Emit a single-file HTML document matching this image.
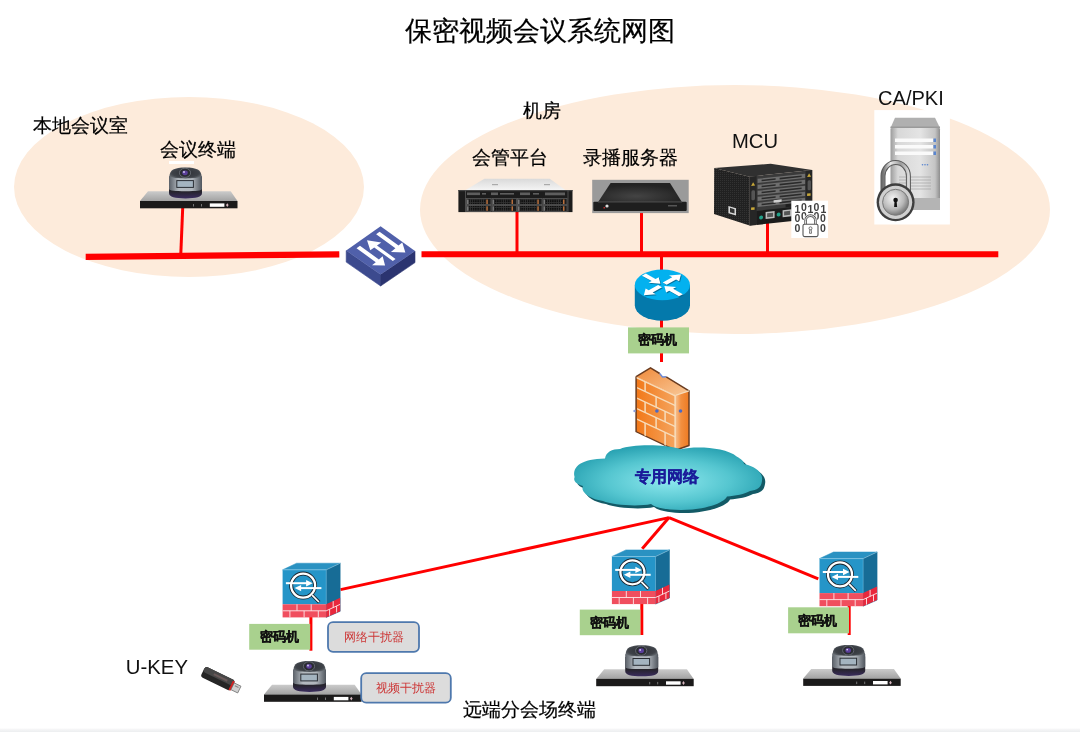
<!DOCTYPE html>
<html><head><meta charset="utf-8">
<style>
html,body{margin:0;padding:0;background:#fff;width:1080px;height:732px;overflow:hidden}
.mm text{stroke:#111;stroke-width:0.3}
svg{display:block;will-change:transform;font-family:"Liberation Sans",sans-serif}
</style></head><body>
<svg width="1080" height="732" viewBox="0 0 1080 732">
<defs>
<linearGradient id="plateG" x1="0" y1="0" x2="0" y2="1">
 <stop offset="0" stop-color="#cbcbcb"/><stop offset="1" stop-color="#a2a2a2"/>
</linearGradient>
<radialGradient id="camTop" cx="0.5" cy="0.5" r="0.6">
 <stop offset="0" stop-color="#2e3036"/><stop offset="0.7" stop-color="#3e4248"/><stop offset="1" stop-color="#6a7076"/>
</radialGradient>
<linearGradient id="camBand" x1="0" y1="0" x2="1" y2="0">
 <stop offset="0" stop-color="#5a6068"/><stop offset="0.3" stop-color="#b4bac0"/><stop offset="0.7" stop-color="#b0b6bc"/><stop offset="1" stop-color="#50565e"/>
</linearGradient>
<linearGradient id="camBase" x1="0" y1="0" x2="0" y2="1">
 <stop offset="0" stop-color="#303036"/><stop offset="0.65" stop-color="#26242c"/><stop offset="1" stop-color="#3a2c5e"/>
</linearGradient>
<g id="term">
 <polygon points="8,-9.7 90.7,-9.7 97.5,0 0,0" fill="url(#plateG)"/>
 <rect x="0" y="0" width="97.5" height="7.3" fill="#1b1a1a"/>
 <rect x="69.8" y="2.4" width="14.6" height="3.4" fill="#fff"/>
 <path d="M87.3,2.2 L88.6,4.1 L87.3,6 L86,4.1Z" fill="#d8b8c0"/>
 <rect x="53" y="3" width="1" height="2.5" fill="#777"/>
 <rect x="61" y="3" width="1" height="2.5" fill="#777"/>
 <path d="M29,-22 L62,-22 L62,-8 C62,-4 56,-2.6 45.5,-2.6 C35,-2.6 29,-4 29,-8 Z" fill="url(#camBase)"/>
 <path d="M29,-24 C29,-26 31,-27 45.5,-27 C60,-27 62,-26 62,-24 L62,-12 C62,-10.3 56,-9.8 45.5,-9.8 C35,-9.8 29,-10.3 29,-12 Z" fill="url(#camBand)"/>
 <path d="M29.5,-24.5 C29.5,-31 34,-33.6 45.5,-33.6 C57,-33.6 61.5,-31 61.5,-24.5 C57,-22 34,-22 29.5,-24.5 Z" fill="url(#camTop)"/>
 <rect x="36.8" y="-20.4" width="16.6" height="6.8" fill="#a4b4c0" stroke="#2a2e34" stroke-width="1"/>
 <ellipse cx="45" cy="-28.2" rx="5.6" ry="4.6" fill="#2a2c32" stroke="#70757c" stroke-width="0.8"/>
 <ellipse cx="45" cy="-28.2" rx="2.8" ry="2.4" fill="#5a3e9a"/>
 <circle cx="44" cy="-29" r="0.9" fill="#d8d0f0"/>
</g>
<g id="cube">
 <polygon points="0,0 14,-6.6 57.6,-6.6 43.6,0" fill="#2a92c2" stroke="#2a92c2" stroke-width="0.5"/>
 <polygon points="43.6,0 57.6,-6.6 57.6,41.5 43.6,47.6" fill="#176c96" stroke="#176c96" stroke-width="0.5"/>
 <rect x="0" y="0" width="43.6" height="34.5" fill="#2595c8"/>
 <polygon points="43.6,34.5 57.6,28 57.6,41.5 43.6,47.6" fill="#e8283c"/>
 <rect x="0" y="34.5" width="43.6" height="13.1" fill="#f04e5e"/>
 <g stroke="#fde8ea" stroke-width="0.9">
  <line x1="0" y1="41" x2="43.6" y2="41"/>
  <line x1="14.4" y1="34.5" x2="14.4" y2="41"/><line x1="28.6" y1="34.5" x2="28.6" y2="41"/>
  <line x1="7.3" y1="41" x2="7.3" y2="47.6"/><line x1="21.5" y1="41" x2="21.5" y2="47.6"/><line x1="35.7" y1="41" x2="35.7" y2="47.6"/>
  <line x1="43.6" y1="41" x2="57.6" y2="34.5"/>
  <line x1="50.6" y1="31.3" x2="50.6" y2="38"/><line x1="47" y1="39.5" x2="47" y2="46"/><line x1="54" y1="36.3" x2="54" y2="42.7"/>
 </g>
 <line x1="0" y1="0" x2="43.6" y2="0" stroke="#9ed4ec" stroke-width="0.6"/>
 <line x1="43.6" y1="0" x2="57.6" y2="-6.6" stroke="#9ed4ec" stroke-width="0.6"/>
 <line x1="43.6" y1="0" x2="43.6" y2="34.5" stroke="#6ab8dc" stroke-width="0.5"/>
 <circle cx="20.5" cy="15.8" r="12" fill="none" stroke="#1a2630" stroke-width="4"/>
 <circle cx="20.5" cy="15.8" r="12" fill="none" stroke="#fff" stroke-width="2.3"/>
 <line x1="29.5" y1="25.3" x2="36.6" y2="32.5" stroke="#1a2630" stroke-width="3.4"/>
 <line x1="29.5" y1="25.3" x2="36.3" y2="32.2" stroke="#fff" stroke-width="1.7"/>
 <g fill="#fff" stroke="#fff">
  <line x1="3.3" y1="13.4" x2="25" y2="13.4" stroke-width="2"/>
  <polygon points="23.5,10.2 30,13.4 23.5,16.6" stroke="none"/>
  <line x1="38.8" y1="18.3" x2="17" y2="18.3" stroke-width="2"/>
  <polygon points="18.5,15.1 12,18.3 18.5,21.5" stroke="none"/>
 </g>
</g>
<radialGradient id="cloudG" cx="0.5" cy="0.55" r="0.55">
 <stop offset="0" stop-color="#8ee8ee"/><stop offset="0.6" stop-color="#55c6d0"/><stop offset="1" stop-color="#2aa3b3"/>
</radialGradient>
<linearGradient id="fwFront" x1="0" y1="0" x2="1" y2="0">
 <stop offset="0" stop-color="#f27818"/><stop offset="1" stop-color="#f4a45e"/>
</linearGradient>
<linearGradient id="fwTop" x1="0" y1="0" x2="1" y2="1">
 <stop offset="0" stop-color="#f08a3a"/><stop offset="1" stop-color="#f8c898"/>
</linearGradient>
<linearGradient id="fwSide" x1="0" y1="0" x2="1" y2="0">
 <stop offset="0" stop-color="#f6c090"/><stop offset="0.4" stop-color="#f39040"/><stop offset="1" stop-color="#ee7a22"/>
</linearGradient>
<g id="rarrow">
 <path d="M-0.08,-0.065 L-0.5,-0.065 L-0.5,-0.16 L-0.8,0 L-0.5,0.16 L-0.5,0.065 L-0.08,0.065 Z"/>
</g>
<linearGradient id="srvTop" x1="0" y1="0" x2="0" y2="1">
 <stop offset="0" stop-color="#dadada"/><stop offset="1" stop-color="#f4f4f4"/>
</linearGradient>
<radialGradient id="recTop" cx="0.45" cy="0.7" r="0.6">
 <stop offset="0" stop-color="#444"/><stop offset="1" stop-color="#232323"/>
</radialGradient>
<linearGradient id="towerG" x1="0" y1="0" x2="1" y2="0">
 <stop offset="0" stop-color="#9c9c9c"/><stop offset="0.15" stop-color="#d8d8d8"/><stop offset="0.6" stop-color="#e4e4e4"/><stop offset="0.9" stop-color="#c4c4c4"/><stop offset="1" stop-color="#8e8e8e"/>
</linearGradient>
<radialGradient id="lockG" cx="0.4" cy="0.35" r="0.7">
 <stop offset="0" stop-color="#f4f4f4"/><stop offset="0.6" stop-color="#b8b8b8"/><stop offset="1" stop-color="#6a6a6a"/>
</radialGradient>
<linearGradient id="shackleG" x1="0" y1="0" x2="1" y2="0">
 <stop offset="0" stop-color="#707070"/><stop offset="0.3" stop-color="#e8e8e8"/><stop offset="0.7" stop-color="#9a9a9a"/><stop offset="1" stop-color="#d8d8d8"/>
</linearGradient>
<pattern id="bayMesh" width="2.2" height="2.6" patternUnits="userSpaceOnUse"><rect width="2.2" height="2.6" fill="#333"/><rect width="1.4" height="1.8" fill="#0e0e0e"/></pattern>
<pattern id="mesh" width="2" height="2" patternUnits="userSpaceOnUse">
 <rect width="2" height="2" fill="#262626"/><rect width="1" height="1" fill="#3a3a3a"/>
</pattern>
</defs>
<linearGradient id="botG" x1="0" y1="0" x2="0" y2="1"><stop offset="0" stop-color="#f8f8f9"/><stop offset="1" stop-color="#eceef0"/></linearGradient><rect x="0" y="728.5" width="1080" height="3.5" fill="url(#botG)"/>
<!-- ellipses -->
<ellipse cx="189" cy="187" rx="175" ry="90" fill="#fdebdb"/>
<ellipse cx="735" cy="209.5" rx="315" ry="124.5" fill="#fdebdb"/>
<!-- title -->
<text x="404.5" y="40.2" font-size="27.3" textLength="271" lengthAdjust="spacingAndGlyphs" fill="#000" stroke="#000" stroke-width="0.2">保密视频会议系统网图</text>
<text x="33" y="132" font-size="18.5" fill="#000" stroke="#000" stroke-width="0.2">本地会议室</text>
<text x="160" y="156" font-size="18.5" fill="#000" stroke="#000" stroke-width="0.2">会议终端</text>
<text x="523" y="117" font-size="18.5" fill="#000" stroke="#000" stroke-width="0.2">机房</text>
<text x="472" y="164" font-size="18.5" fill="#000" stroke="#000" stroke-width="0.2">会管平台</text>
<text x="583" y="164" font-size="18.5" fill="#000" stroke="#000" stroke-width="0.2">录播服务器</text>
<text x="732" y="148" font-size="21" textLength="46" lengthAdjust="spacingAndGlyphs" fill="#111">MCU</text>
<text x="878" y="104.6" font-size="20.5" textLength="65.8" lengthAdjust="spacingAndGlyphs" fill="#111">CA/PKI</text>
<text x="125.8" y="673.8" font-size="21" textLength="62.2" lengthAdjust="spacingAndGlyphs" fill="#111">U-KEY</text>
<text x="463" y="716" font-size="18.5" fill="#000" stroke="#000" stroke-width="0.2">远端分会场终端</text>
<!-- red lines -->
<line x1="85.7" y1="256.85" x2="339.3" y2="254.35" stroke="#ff0000" stroke-width="6.2"/>
<line x1="421.5" y1="254.25" x2="998.3" y2="254.15" stroke="#ff0000" stroke-width="6"/>
<line x1="182.7" y1="208" x2="180.8" y2="254" stroke="#ff0000" stroke-width="3"/>
<line x1="517" y1="212" x2="517" y2="254" stroke="#ff0000" stroke-width="3"/>
<line x1="641.5" y1="211" x2="641.5" y2="254" stroke="#ff0000" stroke-width="3"/>
<line x1="767.5" y1="222" x2="767.5" y2="254" stroke="#ff0000" stroke-width="3"/>
<line x1="661.5" y1="254" x2="661.5" y2="362" stroke="#ff0000" stroke-width="3"/>
<line x1="669" y1="517.6" x2="340.5" y2="589.6" stroke="#ff0000" stroke-width="3"/>
<line x1="669" y1="517.6" x2="642.2" y2="548.8" stroke="#ff0000" stroke-width="3"/>
<line x1="669" y1="517.6" x2="818.3" y2="578.8" stroke="#ff0000" stroke-width="3"/>
<line x1="310.9" y1="617" x2="310.9" y2="650.7" stroke="#ff0000" stroke-width="3"/>
<line x1="641.8" y1="604" x2="641.8" y2="635" stroke="#ff0000" stroke-width="3"/>
<line x1="849.2" y1="605" x2="849.2" y2="635" stroke="#ff0000" stroke-width="3"/>
<!-- server 1 -->
<g>
 <polygon points="484.4,178.8 549.8,178.8 565.4,190.1 465.6,190.1" fill="url(#srvTop)"/>
 <rect x="492" y="184" width="6" height="1.2" fill="#aaa"/><rect x="544" y="184" width="6" height="1.2" fill="#aaa"/>
 <rect x="458.4" y="190" width="114.1" height="22.1" fill="#1c1c1c"/>
 <rect x="458.4" y="190" width="114.1" height="1.2" fill="#444"/>
 <g fill="#5e5e5e">
  <rect x="467" y="192.5" width="13" height="2.6"/><rect x="482" y="193" width="4" height="1.6"/>
  <rect x="491" y="192.5" width="7" height="2.6"/><rect x="500" y="193" width="14" height="1.6"/>
  <rect x="520" y="192.5" width="10" height="2.6"/><rect x="533" y="193" width="6" height="1.6"/>
  <rect x="545" y="192.5" width="20" height="2.8"/>
 </g>
 <g fill="url(#bayMesh)">
  <rect x="469.5" y="199" width="16" height="5.2"/><rect x="495" y="199" width="16" height="5.2"/><rect x="520.5" y="199" width="16" height="5.2"/><rect x="546" y="199" width="16" height="5.2"/>
  <rect x="469.5" y="205.8" width="16" height="5.2"/><rect x="495" y="205.8" width="16" height="5.2"/><rect x="520.5" y="205.8" width="16" height="5.2"/><rect x="546" y="205.8" width="16" height="5.2"/>
 </g>
 <g fill="none" stroke="#5a5a5a" stroke-width="0.8">
  <rect x="466.5" y="198.5" width="24.5" height="6.2"/><rect x="492" y="198.5" width="24.5" height="6.2"/><rect x="517.5" y="198.5" width="24.5" height="6.2"/><rect x="543" y="198.5" width="24" height="6.2"/>
  <rect x="466.5" y="205.3" width="24.5" height="6.2"/><rect x="492" y="205.3" width="24.5" height="6.2"/><rect x="517.5" y="205.3" width="24.5" height="6.2"/><rect x="543" y="205.3" width="24" height="6.2"/>
  <line x1="465.5" y1="190.5" x2="465.5" y2="212"/><line x1="568" y1="190.5" x2="568" y2="212"/>
 </g>
 <g fill="#777">
  <rect x="467" y="199.5" width="1.6" height="4.5"/><rect x="492.5" y="199.5" width="1.6" height="4.5"/><rect x="518" y="199.5" width="1.6" height="4.5"/><rect x="543.5" y="199.5" width="1.6" height="4.5"/>
  <rect x="467" y="206.3" width="1.6" height="4.5"/><rect x="492.5" y="206.3" width="1.6" height="4.5"/><rect x="518" y="206.3" width="1.6" height="4.5"/><rect x="543.5" y="206.3" width="1.6" height="4.5"/>
 </g>
 <g fill="#b8703e">
  <rect x="486.3" y="199.5" width="1.5" height="4.5"/><rect x="511.5" y="199.5" width="1.5" height="4.5"/><rect x="537.3" y="199.5" width="1.5" height="4.5"/><rect x="563" y="199.5" width="1.5" height="4.5"/>
  <rect x="486.3" y="206.3" width="1.5" height="4.5"/><rect x="511.5" y="206.3" width="1.5" height="4.5"/><rect x="537.3" y="206.3" width="1.5" height="4.5"/><rect x="563" y="206.3" width="1.5" height="4.5"/>
 </g>
</g>
<!-- server 2 -->
<g>
 <rect x="592.2" y="179.8" width="96.5" height="33.3" fill="#9a9a9a"/>
 <polygon points="610.6,183.1 670,183.1 681.7,201.7 598.3,201.7" fill="url(#recTop)"/>
 <rect x="593.3" y="201.7" width="93.4" height="9.4" rx="1" fill="#1e1e1e"/>
 <rect x="598" y="201.7" width="84" height="0.8" fill="#4a4a4a"/>
 <circle cx="607" cy="206" r="1.6" fill="#ddd"/>
 <rect x="603.5" y="207" width="1.5" height="1.5" fill="#c03030"/>
 <rect x="668" y="205" width="9" height="1.5" fill="#555"/>
</g>
<!-- MCU -->
<g>
 <polygon points="714.2,168 770.6,163.8 812.2,170 749.6,176.7" fill="#303030"/>
 <polygon points="714.2,168 749.6,176.7 749.6,225.5 714,214" fill="url(#mesh)"/>
 <polygon points="714.2,168 749.6,176.7 749.6,225.5 714,214" fill="#000" opacity="0.12"/>
 <polygon points="728.4,206 736,208.3 736,215.5 728.4,213.2" fill="#d8d8d8"/>
 <polygon points="730,207.8 734.5,209.2 734.5,213.6 730,212.2" fill="#333"/>
 <polygon points="749.6,176.7 812.2,170 812.2,216 749.6,225.5" fill="#3a3a3a"/>
 <g transform="translate(749.6,176.7) skewY(-6.1)">
  <rect x="0" y="0" width="7" height="49" fill="#262626"/>
  <rect x="56" y="0" width="6.6" height="45" fill="#262626"/>
  <rect x="1.8" y="14" width="3.6" height="10" rx="1.5" fill="#555"/>
  <rect x="58" y="10" width="3.4" height="10" rx="1.5" fill="#555"/>
  <polygon points="3.5,6 5.5,9.5 1.5,9.5" fill="#c8a838"/>
  <polygon points="59.5,3 61.5,6.5 57.5,6.5" fill="#c8a838"/>
  <rect x="1.5" y="31" width="3.5" height="2.5" fill="#c8a838"/>
  <rect x="57.5" y="23" width="3.5" height="2.5" fill="#c8a838"/>
  <g fill="#6e6e6e">
   <rect x="8" y="3" width="47.5" height="4.2"/>
   <rect x="8" y="9" width="47.5" height="4.2"/>
   <rect x="8" y="15" width="47.5" height="4.2"/>
   <rect x="8" y="21" width="47.5" height="4.2"/>
   <rect x="8" y="27" width="47.5" height="4.2"/>
  </g>
  <g fill="#2a2a2a">
   <rect x="12" y="4.3" width="14" height="1.6"/><rect x="30" y="4.3" width="22" height="1.6"/>
   <rect x="12" y="10.3" width="14" height="1.6"/><rect x="30" y="10.3" width="22" height="1.6"/>
   <rect x="12" y="16.3" width="14" height="1.6"/><rect x="30" y="16.3" width="22" height="1.6"/>
   <rect x="12" y="22.3" width="14" height="1.6"/><rect x="30" y="22.3" width="22" height="1.6"/>
   <rect x="12" y="28.3" width="14" height="1.6"/><rect x="30" y="28.3" width="22" height="1.6"/>
  </g>
  <rect x="24" y="26" width="8" height="2.5" fill="#d0d0d0"/>
  <rect x="36" y="31.5" width="12" height="3" fill="#1e1e1e"/>
  <rect x="7" y="35" width="43" height="14" fill="#1c1c1c"/>
  <rect x="16" y="37" width="9" height="7" fill="#bcbcbc"/><rect x="33" y="37" width="9" height="7" fill="#bcbcbc"/>
  <rect x="17.5" y="38.5" width="6" height="4" fill="#555"/><rect x="34.5" y="38.5" width="6" height="4" fill="#555"/>
  <circle cx="11.5" cy="42" r="2" fill="#22a088"/><circle cx="29" cy="41" r="2" fill="#22a088"/>
 </g>
</g>
<!-- binary lock -->
<g>
 <rect x="791.3" y="200.7" width="36.7" height="37.3" fill="#fff"/>
 <g font-size="10.5" font-weight="bold" fill="#404040" text-anchor="middle">
  <text x="797.5" y="213">1</text><text x="804" y="210.5">0</text><text x="810.5" y="213">1</text><text x="816.5" y="210.5">0</text><text x="823.5" y="213">1</text>
  <text x="797.5" y="222">0</text><text x="804" y="219.5">0</text><text x="816.5" y="219.5">0</text><text x="823" y="222">0</text>
  <text x="797.5" y="231.5">0</text><text x="823" y="231.5">0</text>
 </g>
 <path d="M805.6,224.5 L805.6,220.5 A4.9,4.9 0 0 1 815.4,220.5 L815.4,224.5" fill="#fff" stroke="#fff" stroke-width="4"/>
 <path d="M805.6,224.5 L805.6,220.5 A4.9,4.9 0 0 1 815.4,220.5 L815.4,224.5" fill="none" stroke="#555" stroke-width="2.6"/><path d="M805.6,224.5 L805.6,220.5 A4.9,4.9 0 0 1 815.4,220.5 L815.4,224.5" fill="none" stroke="#fff" stroke-width="0.9"/>
 <rect x="803" y="224.2" width="15" height="12.4" rx="1.6" fill="#fff" stroke="#555" stroke-width="1.1"/>
 <circle cx="810.5" cy="228.3" r="1.5" fill="none" stroke="#555" stroke-width="0.8"/>
 <path d="M809.8,229.5 L809.5,233.3 L811.5,233.3 L811.2,229.5" fill="none" stroke="#555" stroke-width="0.8"/>
</g>
<!-- CA/PKI -->
<g>
 <rect x="874.3" y="110.1" width="75.6" height="114.4" fill="#fff"/>
 <polygon points="895,117.8 935,117.8 940,128 890.5,128" fill="#b0b0b0"/><rect x="890.5" y="126.5" width="49.5" height="2" fill="#9a9a9a"/>
 <rect x="890.5" y="128" width="49.5" height="82" rx="1.5" fill="url(#towerG)"/>
 <rect x="890.5" y="198" width="49.5" height="12" fill="#b4b4b4"/>
 <g fill="#fafafa">
  <rect x="895" y="138.5" width="38" height="3.5"/><rect x="895" y="145" width="38" height="3.5"/><rect x="895" y="151.5" width="38" height="3.5"/>
 </g>
 <g fill="#5a86d0"><rect x="933.5" y="138.5" width="2.5" height="3.5"/><rect x="933.5" y="145" width="2.5" height="3.5"/><rect x="933.5" y="151.5" width="2.5" height="3.5"/>
 <circle cx="922.5" cy="164.7" r="0.8"/><circle cx="925" cy="164.7" r="0.8"/><circle cx="927.5" cy="164.7" r="0.8"/></g>
 <g stroke="#9a9a9a" stroke-width="0.6"><line x1="899" y1="177" x2="931" y2="177"/><line x1="899" y1="180" x2="931" y2="180"/><line x1="899" y1="183" x2="931" y2="183"/><line x1="899" y1="186" x2="931" y2="186"/><line x1="899" y1="189" x2="931" y2="189"/></g>
 <path d="M883,192 L883,176 A12.7,13.5 0 0 1 908.4,176 L908.4,192" fill="none" stroke="#5a5a5a" stroke-width="5"/>
 <path d="M883,192 L883,176 A12.7,13.5 0 0 1 908.4,176 L908.4,192" fill="none" stroke="url(#shackleG)" stroke-width="3"/>
 <ellipse cx="895.6" cy="204" rx="18" ry="16.5" fill="#2a2a2a" opacity="0.35"/>
 <circle cx="895.6" cy="202.3" r="19" fill="#3e3e3e"/>
 <circle cx="895.6" cy="202.3" r="16.6" fill="#cfcfcf"/>
 <circle cx="895.6" cy="202.3" r="13" fill="url(#lockG)" stroke="#7a7a7a" stroke-width="1"/>
 <circle cx="895.6" cy="200" r="2.3" fill="#111"/>
 <polygon points="894.6,200.5 896.6,200.5 897.1,207 894.1,207" fill="#111"/>
</g>
<!-- USB key -->
<g transform="translate(219,679.5) rotate(26)">
 <rect x="-18" y="-6" width="33" height="11.5" rx="2.5" fill="#262626"/>
 <rect x="-18" y="-6" width="33" height="6" rx="2.5" fill="#474747"/>
 <rect x="-7" y="-3.5" width="15" height="2" fill="#6a5a5a"/>
 <rect x="13" y="-5" width="2.2" height="10" fill="#d42020"/>
 <rect x="15.2" y="-3.6" width="7.5" height="7.5" fill="#d0d0d0" stroke="#6a6a6a" stroke-width="0.7"/>
 <rect x="17" y="-2" width="4" height="1.2" fill="#888"/>
</g>
<!-- router -->
<g>
 <path d="M634.8,284.9 L634.8,305.3 A27.6,15.4 0 0 0 690,305.3 L690,284.9 Z" fill="#0479ab"/>
 <ellipse cx="662.4" cy="284.9" rx="27.6" ry="15.35" fill="#03b1ef"/>
 <g transform="translate(662.4,284.9) scale(27.6,15.35)">
  <g fill="#0a3a55" opacity="0.55" transform="translate(0.03,0.06)">
   <path transform="rotate(225)" d="M0.95,-0.1 L0.45,-0.1 L0.45,-0.26 L0.1,0 L0.45,0.26 L0.45,0.1 L0.95,0.1 Z"/>
   <path transform="rotate(45)" d="M0.95,-0.1 L0.45,-0.1 L0.45,-0.26 L0.1,0 L0.45,0.26 L0.45,0.1 L0.95,0.1 Z"/>
   <path transform="rotate(-45)" d="M0.12,-0.1 L0.6,-0.1 L0.6,-0.26 L0.95,0 L0.6,0.26 L0.6,0.1 L0.12,0.1 Z"/>
   <path transform="rotate(135)" d="M0.12,-0.1 L0.6,-0.1 L0.6,-0.26 L0.95,0 L0.6,0.26 L0.6,0.1 L0.12,0.1 Z"/>
  </g>
  <g fill="#fff">
   <path transform="rotate(225)" d="M0.95,-0.1 L0.45,-0.1 L0.45,-0.26 L0.1,0 L0.45,0.26 L0.45,0.1 L0.95,0.1 Z"/>
   <path transform="rotate(45)" d="M0.95,-0.1 L0.45,-0.1 L0.45,-0.26 L0.1,0 L0.45,0.26 L0.45,0.1 L0.95,0.1 Z"/>
   <path transform="rotate(-45)" d="M0.12,-0.1 L0.6,-0.1 L0.6,-0.26 L0.95,0 L0.6,0.26 L0.6,0.1 L0.12,0.1 Z"/>
   <path transform="rotate(135)" d="M0.12,-0.1 L0.6,-0.1 L0.6,-0.26 L0.95,0 L0.6,0.26 L0.6,0.1 L0.12,0.1 Z"/>
  </g>
 </g>
</g>
<!-- switch -->
<g>
 <polygon points="346.2,250.6 380.6,274.5 380.6,286 346.2,262.1" fill="#3c4a8e" stroke="#3c4a8e" stroke-width="0.6"/>
 <polygon points="380.6,274.5 415,251.1 415,262.6 380.6,286" fill="#2b3470" stroke="#2b3470" stroke-width="0.6"/>
 <polygon points="380.6,226.2 415,251.1 380.6,274.5 346.2,250.6" fill="#5060aa"/>
 <g transform="matrix(0.344,0.249,-0.344,0.244,380.6,226.2)" fill="#fff">
  <polygon points="10,13 65,13 64,1 89,17 67,37 66,23 10,23"/>
  <polygon points="34,44.5 34,32 9,48.5 34,64 34,52.5 88,52.5 88,44.5"/>
  <polygon points="10,70 65,70 64,58 86,73 67,92 66,80 10,80"/>
 </g>
</g>
<!-- firewall -->
<g>
 <rect x="632" y="363" width="62.4" height="89" fill="#fff" opacity="0.5"/>
 <polygon points="636.1,376.7 650.5,367.8 659.7,373.5 662.5,377 666.2,376.8 689,390.9 675.5,395.2" fill="url(#fwTop)"/>
 <polygon points="675.5,395.2 689,390.9 689,445.5 676,450" fill="url(#fwSide)"/>
 <path d="M636.1,376.7 L650.5,367.8 L659.7,373.5 M666.2,376.8 L689,390.9 L689,445.5 L676,450" fill="none" stroke="#6a3c20" stroke-width="1.5" stroke-linejoin="round"/>
 <line x1="675.8" y1="395.2" x2="689" y2="390.9" stroke="#f7dcba" stroke-width="1.2"/>
 <g transform="translate(636.1,376.7) skewY(25.2)">
  <rect x="0" y="0" width="39.4" height="55" fill="url(#fwFront)"/>
  <path d="M0,0 L0,55 L39.4,55" fill="none" stroke="#6a3c20" stroke-width="1.5"/>
  <g stroke="#f7dcba" stroke-width="1.5">
   <line x1="0.5" y1="0.8" x2="39.4" y2="0.8"/>
   <line x1="1" y1="10.5" x2="39" y2="10.5"/>
   <line x1="1" y1="21" x2="39" y2="21"/>
   <line x1="1" y1="31.5" x2="39" y2="31.5"/>
   <line x1="1" y1="42" x2="39" y2="42"/>
   <line x1="39" y1="0" x2="39" y2="55"/>
   <line x1="9" y1="1" x2="9" y2="10.5"/>
   <line x1="20" y1="10.5" x2="20" y2="21"/>
   <line x1="9" y1="21" x2="9" y2="31.5"/><line x1="29" y1="21" x2="29" y2="31.5"/>
   <line x1="20" y1="31.5" x2="20" y2="42"/>
   <line x1="9" y1="42" x2="9" y2="55"/><line x1="29" y1="42" x2="29" y2="55"/>
  </g>
 </g>
 <circle cx="656.9" cy="411" r="1.8" fill="#4a6ac8"/>
 <circle cx="680.5" cy="411" r="1.8" fill="#4a6ac8"/>
 <path d="M659.7,373.5 L662.5,377 L666.2,376.8" fill="none" stroke="#6a8ad8" stroke-width="1.4"/>
 <circle cx="634.5" cy="411" r="1.2" fill="#8aa0e0"/>
</g>
<!-- cloud -->
<g>
 <path id="cloudP" d="M574.6,477 C572,466 582,459 605,458.5 C606,452 612,449 620,449 C632,444 665,444 681,449.3 C695,446 725,447 737,456.7 C741,459 744,461 744,464 C755,466 764,473 762,481 C761,488 757,490 750,491 C745,494 735,496 727,496.5 C724,503 705,510 681,510 C668,510 656,508 651,504 C638,507 612,505 603,501 C590,499 580,492 583,486 C576,484 573,481 574.6,477 Z" fill="#135a66" transform="translate(3,3)"/>
 <path d="M574.6,477 C572,466 582,459 605,458.5 C606,452 612,449 620,449 C632,444 665,444 681,449.3 C695,446 725,447 737,456.7 C741,459 744,461 744,464 C755,466 764,473 762,481 C761,488 757,490 750,491 C745,494 735,496 727,496.5 C724,503 705,510 681,510 C668,510 656,508 651,504 C638,507 612,505 603,501 C590,499 580,492 583,486 C576,484 573,481 574.6,477 Z" fill="url(#cloudG)"/>
 <text x="635" y="482" font-size="15.5" font-weight="bold" fill="#1a1c9a" stroke="#1a1c9a" stroke-width="0.35">专用网络</text>
</g>
<!-- terminals -->
<use href="#term" x="140" y="201"/>
<rect x="169" y="161" width="25" height="3" fill="#fff"/>
<use href="#term" x="264" y="694.5"/>
<use href="#term" x="596.2" y="678.9"/>
<use href="#term" x="803.2" y="678.6"/>
<!-- cubes -->
<use href="#cube" x="282.6" y="569.8"/>
<use href="#cube" x="611.9" y="556.5"/>
<use href="#cube" x="819.5" y="558.6"/>
<!-- 密码机 boxes -->
<g class="mm" font-size="13.3" font-weight="bold" fill="#111">
<rect x="628" y="327.4" width="61" height="26" fill="#a9d18e"/><text x="638" y="344">密码机</text>
<rect x="249.2" y="623.9" width="61" height="25.8" fill="#a9d18e"/><text x="260" y="641">密码机</text>
<rect x="579.8" y="609.6" width="60.6" height="25.6" fill="#a9d18e"/><text x="590" y="626.5">密码机</text>
<rect x="788.1" y="607.3" width="60.9" height="26" fill="#a9d18e"/><text x="798" y="624.5">密码机</text>
</g>
<!-- jammer boxes -->
<g font-size="12.4" fill="#cc3535" font-family="'Liberation Serif',serif">
<rect x="328" y="622.2" width="91" height="29.6" rx="5" fill="#dcdcdc" stroke="#4e78ad" stroke-width="1.8"/><text x="344" y="640.6">网络干扰器</text>
<rect x="361.2" y="673.2" width="89.6" height="29.5" rx="5" fill="#dcdcdc" stroke="#4e78ad" stroke-width="1.8"/><text x="376" y="691.6">视频干扰器</text>
</g>
</svg>
</body></html>
